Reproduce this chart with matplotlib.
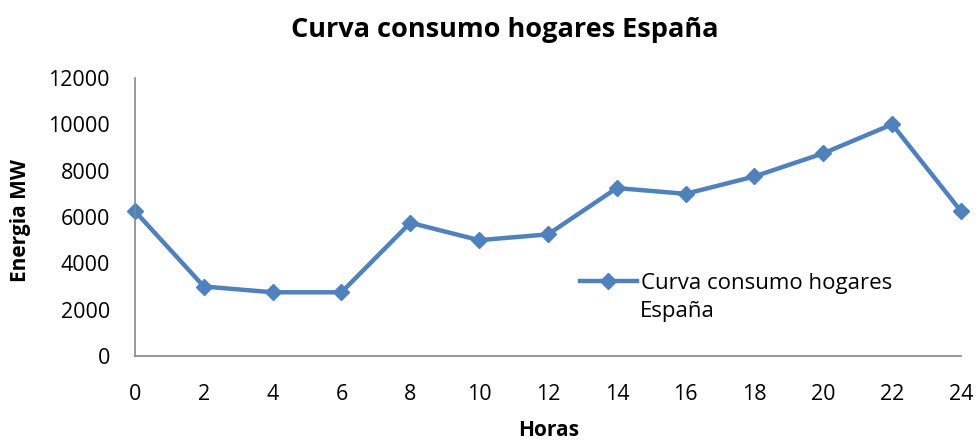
import matplotlib
matplotlib.use("Agg")
import matplotlib.pyplot as plt

horas = [0, 2, 4, 6, 8, 10, 12, 14, 16, 18, 20, 22, 24]
energia = [6250, 3000, 2750, 2750, 5750, 5000, 5250, 7250, 7000, 7750, 8750, 10000, 6250]
y_ticks = [0, 2000, 4000, 6000, 8000, 10000, 12000]

plt.rcParams['font.family'] = ['Open Sans', 'DejaVu Sans']

fig = plt.figure(figsize=(9.79, 4.41), dpi=100)
ax = fig.add_axes([135 / 979, 1 - 356 / 441, 826 / 979, 278 / 441])

line_color = '#4F81BD'
ax.plot(horas, energia, color=line_color, linewidth=3.2, marker='D', markersize=8.5,
        label='Curva consumo hogares', clip_on=False)

ax.set_xlim(0, 24)
ax.set_ylim(0, 12000)
ax.set_xticks(horas)
ax.set_yticks(y_ticks)
ax.tick_params(length=0, labelsize=15.5, pad=20)
ax.tick_params(axis='y', pad=18)

for side in ['top', 'right']:
    ax.spines[side].set_visible(False)
for side in ['left', 'bottom']:
    ax.spines[side].set_color('#878787')
    ax.spines[side].set_linewidth(1.2)

fig.text(0.516, 0.932, 'Curva consumo hogares España', fontsize=19.5, fontweight='bold',
         ha='center', va='center')
fig.text(0.560, 0.023, 'Horas', fontsize=15, fontweight='bold', ha='center', va='center')
fig.text(0.021, 0.50, 'Energia MW', fontsize=15, fontweight='bold', ha='center',
         va='center', rotation=90)

leg = ax.legend(loc='center left', bbox_to_anchor=(580 / 979, 1 - 283 / 441),
                bbox_transform=fig.transFigure, frameon=False, fontsize=16,
                handlelength=2.55, handletextpad=0.2, borderpad=0, borderaxespad=0)
fig.text(640 / 979, 1 - 312 / 441, 'España', fontsize=16, va='center', ha='left')

fig.savefig('out.png', dpi=100)
